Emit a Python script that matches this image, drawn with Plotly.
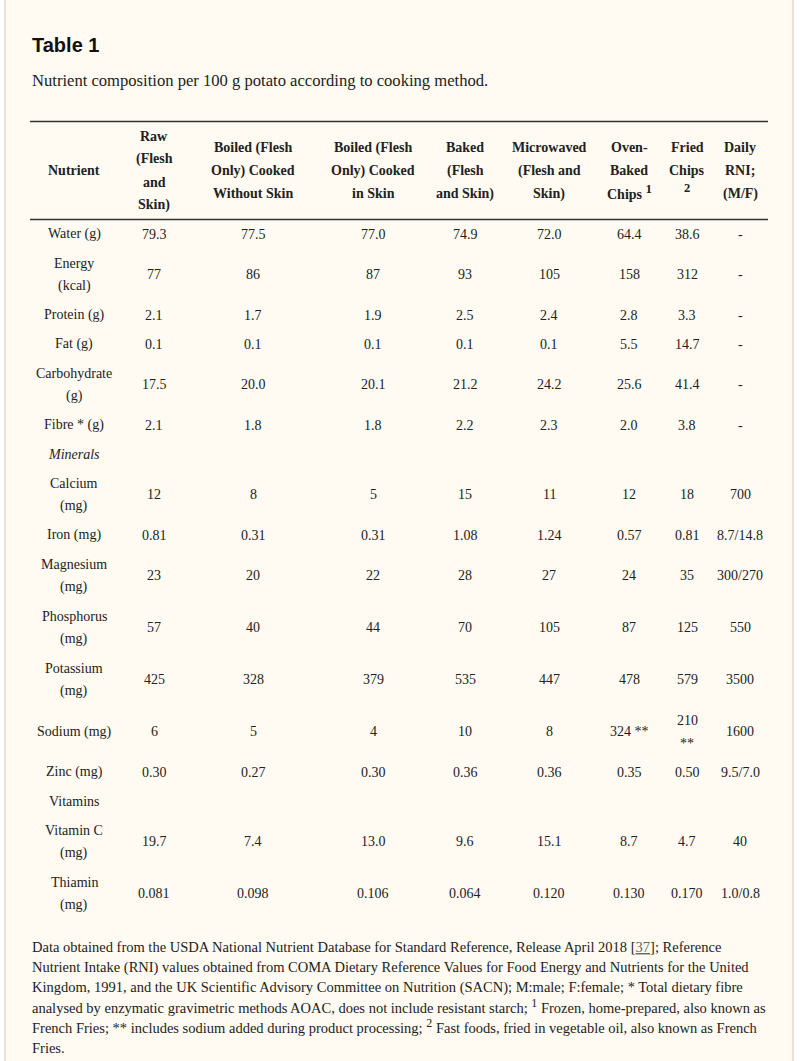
import plotly.graph_objects as go

# ---------------- data ----------------
title_text = "Table 1"
caption_text = "Nutrient composition per 100 g potato according to cooking method."

column_headers = [
    "Nutrient",
    "Raw<br>(Flesh<br>and<br>Skin)",
    "Boiled (Flesh<br>Only) Cooked<br>Without Skin",
    "Boiled (Flesh<br>Only) Cooked<br>in Skin",
    "Baked<br>(Flesh<br>and Skin)",
    "Microwaved<br>(Flesh and<br>Skin)",
    "Oven-<br>Baked<br>Chips <sup>1</sup>",
    "Fried<br>Chips<br><sup>2</sup>",
    "Daily<br>RNI;<br>(M/F)",
]

nutrients = ["Water (g)", "Energy<br>(kcal)", "Protein (g)", "Fat (g)", "Carbohydrate<br>(g)",
             "Fibre * (g)", "<i>Minerals</i>", "Calcium<br>(mg)", "Iron (mg)", "Magnesium<br>(mg)",
             "Phosphorus<br>(mg)", "Potassium<br>(mg)", "Sodium (mg)", "Zinc (mg)", "Vitamins",
             "Vitamin C<br>(mg)", "Thiamin<br>(mg)"]
raw = ["79.3", "77", "2.1", "0.1", "17.5", "2.1", "", "12", "0.81", "23", "57", "425", "6",
       "0.30", "", "19.7", "0.081"]
boiled_without_skin = ["77.5", "86", "1.7", "0.1", "20.0", "1.8", "", "8", "0.31", "20", "40",
                       "328", "5", "0.27", "", "7.4", "0.098"]
boiled_in_skin = ["77.0", "87", "1.9", "0.1", "20.1", "1.8", "", "5", "0.31", "22", "44", "379",
                  "4", "0.30", "", "13.0", "0.106"]
baked = ["74.9", "93", "2.5", "0.1", "21.2", "2.2", "", "15", "1.08", "28", "70", "535", "10",
         "0.36", "", "9.6", "0.064"]
microwaved = ["72.0", "105", "2.4", "0.1", "24.2", "2.3", "", "11", "1.24", "27", "105", "447",
              "8", "0.36", "", "15.1", "0.120"]
oven_baked_chips = ["64.4", "158", "2.8", "5.5", "25.6", "2.0", "", "12", "0.57", "24", "87",
                    "478", "324 **", "0.35", "", "8.7", "0.130"]
fried_chips = ["38.6", "312", "3.3", "14.7", "41.4", "3.8", "", "18", "0.81", "35", "125", "579",
               "210<br>**", "0.50", "", "4.7", "0.170"]
daily_rni = ["-", "-", "-", "-", "-", "-", "", "700", "8.7/14.8", "300/270", "550", "3500",
             "1600", "9.5/7.0", "", "40", "1.0/0.8"]

footnote_lines = [
    "Data obtained from the USDA National Nutrient Database for Standard Reference, Release April 2018 [<span style='color:#666666'><u>37</u></span>]; Reference",
    "Nutrient Intake (RNI) values obtained from COMA Dietary Reference Values for Food Energy and Nutrients for the United",
    "Kingdom, 1991, and the UK Scientific Advisory Committee on Nutrition (SACN); M:male; F:female; * Total dietary fibre",
    "analysed by enzymatic gravimetric methods AOAC, does not include resistant starch; <sup>1</sup> Frozen, home-prepared, also known as",
    "French Fries; ** includes sodium added during product processing; <sup>2</sup> Fast foods, fried in vegetable oil, also known as French",
    "Fries.",
]

columns = [nutrients, raw, boiled_without_skin, boiled_in_skin, baked, microwaved,
           oven_baked_chips, fried_chips, daily_rni]

# ---------------- layout constants ----------------
W, H = 800, 1061
col_x = [74, 154, 253, 373, 465, 549, 629, 687, 740]
LINE_H = 23
PAD = 6
SERIF = "Liberation Serif"
TXT = "#222222"
BG = "#fffbf2"
BORDER = "#e8d6cb"
RULE_TOP = 121.5
LEFT, RIGHT = 30, 768

fig = go.Figure()
fig.add_trace(go.Scatter(x=[0, W], y=[0, H], mode="markers", marker=dict(opacity=0),
                         hoverinfo="skip", showlegend=False))

ann = []


def add_lines(text, x, yc, size=14, bold=False, anchor="center"):
    parts = text.split("<br>")
    n = len(parts)
    for i, p in enumerate(parts):
        if not p:
            continue
        y = yc + (i - (n - 1) / 2) * LINE_H
        fsize = size
        if p.startswith("<sup>") and p.endswith("</sup>"):
            p = p[5:-6]
            fsize = 12.5
            y -= 6
        elif "<sup>" in p:
            p = p.replace("<sup>", "<sup><span style='font-size:13px'>").replace(
                "</sup>", "</span></sup>")
            y -= 2
        t = f"<b>{p}</b>" if bold else p
        ann.append(dict(x=x, y=y, xref="x", yref="y", text=t, showarrow=False,
                        xanchor=anchor, yanchor="middle",
                        font=dict(family=SERIF, size=fsize, color=TXT)))


# title + caption
ann.append(dict(x=LEFT, y=45, xref="x", yref="y", text=f"<b>{title_text}</b>", showarrow=False,
                xanchor="left", yanchor="middle",
                font=dict(family="Liberation Sans", size=20, color="#111111")))
ann.append(dict(x=LEFT, y=80, xref="x", yref="y", text=caption_text, showarrow=False,
                xanchor="left", yanchor="middle",
                font=dict(family=SERIF, size=16.6, color=TXT)))

# header
n_head = max(h.count("<br>") + 1 for h in column_headers)
head_h = n_head * LINE_H + PAD
head_c = RULE_TOP + head_h / 2
for x, h in zip(col_x, column_headers):
    add_lines(h, x, head_c, bold=True)
RULE_MID = RULE_TOP + head_h

# body
y = RULE_MID
for r in range(len(nutrients)):
    n = max(col[r].count("<br>") + 1 for col in columns)
    rh = n * LINE_H + PAD
    yc = y + rh / 2
    for x, col in zip(col_x, columns):
        add_lines(col[r], x, yc)
    y += rh

# footnotes
for i, line in enumerate(footnote_lines):
    fy = 947 + i * 20.2 - (2 if "<sup>" in line else 0)
    line = line.replace("<sup>", "<sup><span style='font-size:12px'>").replace(
        "</sup>", "</span></sup>")
    ann.append(dict(x=LEFT, y=fy, xref="x", yref="y", text=line, showarrow=False,
                    xanchor="left", yanchor="middle", align="left",
                    font=dict(family=SERIF, size=14.5, color=TXT)))

shapes = [
    dict(type="rect", xref="x", yref="y", x0=5, x1=793, y0=-10, y1=H + 10,
         fillcolor=BG, line=dict(color=BORDER, width=1.5), layer="below"),
    dict(type="line", xref="x", yref="y", x0=LEFT, x1=RIGHT, y0=RULE_TOP, y1=RULE_TOP,
         line=dict(color="#333333", width=1.5)),
    dict(type="line", xref="x", yref="y", x0=LEFT, x1=RIGHT, y0=RULE_MID, y1=RULE_MID,
         line=dict(color="#333333", width=1.5)),
]

fig.update_layout(
    width=W, height=H, margin=dict(l=0, r=0, t=0, b=0),
    paper_bgcolor="white", plot_bgcolor="rgba(0,0,0,0)",
    xaxis=dict(range=[0, W], visible=False, fixedrange=True),
    yaxis=dict(range=[H, 0], visible=False, fixedrange=True),
    annotations=ann, shapes=shapes, showlegend=False,
)
fig.write_html("out.html", config={"displayModeBar": False},
               post_script="document.body.style.margin='0';document.body.style.overflow='hidden';")
